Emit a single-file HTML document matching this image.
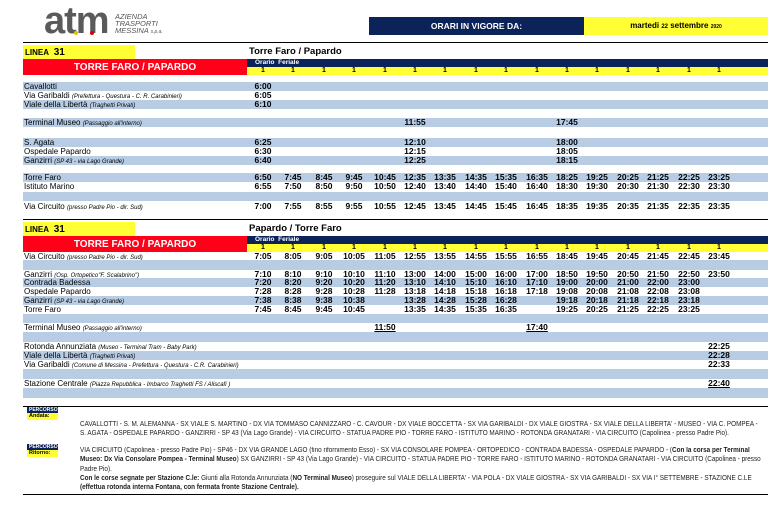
<!DOCTYPE html>
<html><head><meta charset="utf-8"><style>
body{margin:0;width:782px;height:518px;background:#fff;position:relative;overflow:hidden;font-family:"Liberation Sans",Arial,sans-serif;color:#000}
div,span{position:absolute;box-sizing:border-box}
.r{left:23px;width:745px;height:9px}
.b{background:#b8cce4}
.l{left:1px;top:0;font-size:8px;line-height:9px;white-space:nowrap}
.l i{font-size:6px}
.t span{width:30px;text-align:center;font-weight:bold;font-size:8.5px;line-height:9px;top:0}
.u{text-decoration:underline}
.c0{left:225px}.c1{left:255px}.c2{left:286px}.c3{left:316px}.c4{left:347px}.c5{left:377px}.c6{left:407px}.c7{left:438px}.c8{left:468px}.c9{left:499px}.c10{left:529px}.c11{left:559px}.c12{left:590px}.c13{left:620px}.c14{left:651px}.c15{left:681px}.c16{left:711px}
.ones span{width:30px;text-align:center;font-weight:bold;font-size:7px;line-height:8px;top:0}
.foot{left:80px;font-family:"Liberation Sans Narrow","Liberation Sans",sans-serif;font-size:7px;line-height:9.3px;white-space:nowrap;color:#222;transform:scaleX(0.91);transform-origin:0 0}
</style></head><body>
<!-- logo -->
<div style="left:44px;top:2px;font-size:38px;font-weight:bold;color:#5a5a5a;letter-spacing:-1px;line-height:38px">atm</div>
<div style="left:74px;top:31px;width:4px;height:4px;background:#e8c000;border-radius:2px"></div>
<div style="left:90px;top:31px;width:4px;height:4px;background:#d00;border-radius:2px"></div>
<div style="left:115px;top:13px;font-size:7.5px;font-style:italic;line-height:7px;color:#555">AZIENDA<br>TRASPORTI<br>MESSINA <span style="position:static;font-size:5px">s.p.a.</span></div>
<div style="left:369px;top:17px;width:215px;height:18px;background:#0b2359;color:#fff;font-weight:bold;font-size:8.5px;text-align:center;line-height:18px">ORARI IN VIGORE DA:</div>
<div style="left:584px;top:17px;width:184px;height:18px;background:#ffff33;font-weight:bold;font-size:8px;text-align:center;line-height:18px">martedi <span style="position:static;font-size:6px">22</span> settembre <span style="position:static;font-size:5px">2020</span></div>
<div style="left:23px;top:42px;width:745px;height:1px;background:#000"></div>

<!-- TABLE 1 header -->
<div style="left:23px;top:45px;width:112px;height:14px;background:#ffff33;font-weight:bold;font-size:8px;line-height:15px;padding-left:2px">LINEA <span style="position:static;font-size:10px">&nbsp;31</span></div>
<div style="left:249px;top:46px;font-weight:bold;font-size:9.5px">Torre Faro / Papardo</div>
<div style="left:23px;top:59px;width:224px;height:16px;background:#ff0019;color:#fff;font-weight:bold;font-size:10px;text-align:center;line-height:17px">TORRE FARO / PAPARDO</div>
<div style="left:247px;top:59px;width:521px;height:8px;background:#0b2359;color:#fff;font-weight:bold;font-size:6.5px;line-height:8px;padding-left:8px">Orario&nbsp; Feriale</div>
<div style="left:247px;top:67px;width:521px;height:8px;background:#ffff33"></div>
<div class="r ones" style="top:67px;height:8px"><span class="c0">1</span><span class="c1">1</span><span class="c2">1</span><span class="c3">1</span><span class="c4">1</span><span class="c5">1</span><span class="c6">1</span><span class="c7">1</span><span class="c8">1</span><span class="c9">1</span><span class="c10">1</span><span class="c11">1</span><span class="c12">1</span><span class="c13">1</span><span class="c14">1</span><span class="c15">1</span></div>

<div class="r b t" style="top:82px"><div class="l">Cavallotti</div><span class="c0">6:00</span></div>
<div class="r t" style="top:91px"><div class="l">Via Garibaldi <i>(Prefettura - Questura - C. R. Carabinieri)</i></div><span class="c0">6:05</span></div>
<div class="r b t" style="top:100px"><div class="l">Viale della Libertà <i>(Traghetti Privati)</i></div><span class="c0">6:10</span></div>
<div class="r b t" style="top:118px"><div class="l">Terminal Museo <i>(Passaggio all'interno)</i></div><span class="c5">11:55</span><span class="c10">17:45</span></div>
<div class="r b t" style="top:138px"><div class="l">S. Agata</div><span class="c0">6:25</span><span class="c5">12:10</span><span class="c10">18:00</span></div>
<div class="r t" style="top:147px"><div class="l">Ospedale Papardo</div><span class="c0">6:30</span><span class="c5">12:15</span><span class="c10">18:05</span></div>
<div class="r b t" style="top:156px"><div class="l">Ganzirri <i>(SP 43 - via Lago Grande)</i></div><span class="c0">6:40</span><span class="c5">12:25</span><span class="c10">18:15</span></div>
<div class="r b t" style="top:173px"><div class="l">Torre Faro</div><span class="c0">6:50</span><span class="c1">7:45</span><span class="c2">8:45</span><span class="c3">9:45</span><span class="c4">10:45</span><span class="c5">12:35</span><span class="c6">13:35</span><span class="c7">14:35</span><span class="c8">15:35</span><span class="c9">16:35</span><span class="c10">18:25</span><span class="c11">19:25</span><span class="c12">20:25</span><span class="c13">21:25</span><span class="c14">22:25</span><span class="c15">23:25</span></div>
<div class="r t" style="top:182px"><div class="l">Istituto Marino</div><span class="c0">6:55</span><span class="c1">7:50</span><span class="c2">8:50</span><span class="c3">9:50</span><span class="c4">10:50</span><span class="c5">12:40</span><span class="c6">13:40</span><span class="c7">14:40</span><span class="c8">15:40</span><span class="c9">16:40</span><span class="c10">18:30</span><span class="c11">19:30</span><span class="c12">20:30</span><span class="c13">21:30</span><span class="c14">22:30</span><span class="c15">23:30</span></div>
<div class="r b" style="top:192px"></div>
<div class="r t" style="top:202px"><div class="l">Via Circuito <i>(presso Padre Pio - dir. Sud)</i></div><span class="c0">7:00</span><span class="c1">7:55</span><span class="c2">8:55</span><span class="c3">9:55</span><span class="c4">10:55</span><span class="c5">12:45</span><span class="c6">13:45</span><span class="c7">14:45</span><span class="c8">15:45</span><span class="c9">16:45</span><span class="c10">18:35</span><span class="c11">19:35</span><span class="c12">20:35</span><span class="c13">21:35</span><span class="c14">22:35</span><span class="c15">23:35</span></div>
<div style="left:23px;top:219px;width:745px;height:1px;background:#000"></div>

<!-- TABLE 2 header -->
<div style="left:23px;top:222px;width:112px;height:14px;background:#ffff33;font-weight:bold;font-size:8px;line-height:15px;padding-left:2px">LINEA <span style="position:static;font-size:10px">&nbsp;31</span></div>
<div style="left:249px;top:223px;font-weight:bold;font-size:9.5px">Papardo / Torre Faro</div>
<div style="left:23px;top:236px;width:224px;height:16px;background:#ff0019;color:#fff;font-weight:bold;font-size:10px;text-align:center;line-height:17px">TORRE FARO / PAPARDO</div>
<div style="left:247px;top:236px;width:521px;height:8px;background:#0b2359;color:#fff;font-weight:bold;font-size:6.5px;line-height:8px;padding-left:8px">Orario&nbsp; Feriale</div>
<div style="left:247px;top:244px;width:521px;height:8px;background:#ffff33"></div>
<div class="r ones" style="top:244px;height:8px"><span class="c0">1</span><span class="c1">1</span><span class="c2">1</span><span class="c3">1</span><span class="c4">1</span><span class="c5">1</span><span class="c6">1</span><span class="c7">1</span><span class="c8">1</span><span class="c9">1</span><span class="c10">1</span><span class="c11">1</span><span class="c12">1</span><span class="c13">1</span><span class="c14">1</span><span class="c15">1</span></div>

<div class="r t" style="top:252px"><div class="l">Via Circuito <i>(presso Padre Pio - dir. Sud)</i></div><span class="c0">7:05</span><span class="c1">8:05</span><span class="c2">9:05</span><span class="c3">10:05</span><span class="c4">11:05</span><span class="c5">12:55</span><span class="c6">13:55</span><span class="c7">14:55</span><span class="c8">15:55</span><span class="c9">16:55</span><span class="c10">18:45</span><span class="c11">19:45</span><span class="c12">20:45</span><span class="c13">21:45</span><span class="c14">22:45</span><span class="c15">23:45</span></div>
<div class="r b" style="top:260px;height:10px"></div>
<div class="r t" style="top:270px"><div class="l">Ganzirri <i>(Osp. Ortopetico"F. Scalabrino")</i></div><span class="c0">7:10</span><span class="c1">8:10</span><span class="c2">9:10</span><span class="c3">10:10</span><span class="c4">11:10</span><span class="c5">13:00</span><span class="c6">14:00</span><span class="c7">15:00</span><span class="c8">16:00</span><span class="c9">17:00</span><span class="c10">18:50</span><span class="c11">19:50</span><span class="c12">20:50</span><span class="c13">21:50</span><span class="c14">22:50</span><span class="c15">23:50</span></div>
<div class="r b t" style="top:278px"><div class="l">Contrada Badessa</div><span class="c0">7:20</span><span class="c1">8:20</span><span class="c2">9:20</span><span class="c3">10:20</span><span class="c4">11:20</span><span class="c5">13:10</span><span class="c6">14:10</span><span class="c7">15:10</span><span class="c8">16:10</span><span class="c9">17:10</span><span class="c10">19:00</span><span class="c11">20:00</span><span class="c12">21:00</span><span class="c13">22:00</span><span class="c14">23:00</span></div>
<div class="r t" style="top:287px"><div class="l">Ospedale Papardo</div><span class="c0">7:28</span><span class="c1">8:28</span><span class="c2">9:28</span><span class="c3">10:28</span><span class="c4">11:28</span><span class="c5">13:18</span><span class="c6">14:18</span><span class="c7">15:18</span><span class="c8">16:18</span><span class="c9">17:18</span><span class="c10">19:08</span><span class="c11">20:08</span><span class="c12">21:08</span><span class="c13">22:08</span><span class="c14">23:08</span></div>
<div class="r b t" style="top:296px"><div class="l">Ganzirri <i>(SP 43 - via Lago Grande)</i></div><span class="c0">7:38</span><span class="c1">8:38</span><span class="c2">9:38</span><span class="c3">10:38</span><span class="c5">13:28</span><span class="c6">14:28</span><span class="c7">15:28</span><span class="c8">16:28</span><span class="c10">19:18</span><span class="c11">20:18</span><span class="c12">21:18</span><span class="c13">22:18</span><span class="c14">23:18</span></div>
<div class="r t" style="top:305px"><div class="l">Torre Faro</div><span class="c0">7:45</span><span class="c1">8:45</span><span class="c2">9:45</span><span class="c3">10:45</span><span class="c5">13:35</span><span class="c6">14:35</span><span class="c7">15:35</span><span class="c8">16:35</span><span class="c10">19:25</span><span class="c11">20:25</span><span class="c12">21:25</span><span class="c13">22:25</span><span class="c14">23:25</span></div>
<div class="r b" style="top:314px"></div>
<div class="r t" style="top:323px"><div class="l">Terminal Museo <i>(Passaggio all'interno)</i></div><span class="c4 u">11:50</span><span class="c9 u">17:40</span></div>
<div class="r b" style="top:332px;height:10px"></div>
<div class="r t" style="top:342px"><div class="l">Rotonda Annunziata <i>(Museo - Terminal Tram - Baby Park)</i></div><span class="c15">22:25</span></div>
<div class="r b t" style="top:351px"><div class="l">Viale della Libertà <i>(Traghetti Privati)</i></div><span class="c15">22:28</span></div>
<div class="r t" style="top:360px"><div class="l">Via Garibaldi <i>(Comune di Messina - Prefettura - Questura - C.R. Carabinieri)</i></div><span class="c15">22:33</span></div>
<div class="r b" style="top:369px;height:10px"></div>
<div class="r t" style="top:379px"><div class="l">Stazione Centrale <i>(Piazza Repubblica - Imbarco Traghetti FS / Aliscafi )</i></div><span class="c15 u">22:40</span></div>
<div class="r b" style="top:388px;height:10px"></div>

<!-- footer -->
<div style="left:23px;top:406px;width:745px;height:1px;background:#000"></div>
<div style="left:27px;top:407px;width:31px;height:6px;background:#0b2359;color:#fff;font-size:5px;font-weight:bold;line-height:6px;padding-left:2px">PERCORSO</div>
<div style="left:27px;top:413px;width:31px;height:7px;background:#ffff33;font-size:5.5px;font-weight:bold;line-height:7px;padding-left:2px">Andata:</div>
<div class="foot" style="top:420px">CAVALLOTTI - S. M. ALEMANNA - SX VIALE S. MARTINO - DX VIA TOMMASO CANNIZZARO - C. CAVOUR - DX VIALE BOCCETTA - SX VIA GARIBALDI - DX VIALE GIOSTRA - SX VIALE DELLA LIBERTA' - MUSEO - VIA C. POMPEA -<br>S. AGATA - OSPEDALE PAPARDO - GANZIRRI - SP 43 (Via Lago Grande) - VIA CIRCUITO - STATUA PADRE PIO - TORRE FARO - ISTITUTO MARINO - ROTONDA GRANATARI - VIA CIRCUITO (Capolinea - presso Padre Pio).</div>
<div style="left:27px;top:444px;width:31px;height:6px;background:#0b2359;color:#fff;font-size:5px;font-weight:bold;line-height:6px;padding-left:2px">PERCORSO</div>
<div style="left:27px;top:450px;width:31px;height:7px;background:#ffff33;font-size:5.5px;font-weight:bold;line-height:7px;padding-left:2px">Ritorno:</div>
<div class="foot" style="top:446px">VIA CIRCUITO (Capolinea - presso Padre Pio) - SP46 - DX VIA GRANDE LAGO (fino rifornimento Esso) - SX VIA CONSOLARE POMPEA - ORTOPEDICO - CONTRADA BADESSA - OSPEDALE PAPARDO - (<b>Con la corsa per Terminal</b><br><b>Museo: Dx Via Consolare Pompea - Terminal Museo</b>) SX GANZIRRI - SP 43 (Via Lago Grande) - VIA CIRCUITO - STATUA PADRE PIO - TORRE FARO - ISTITUTO MARINO - ROTONDA GRANATARI - VIA CIRCUITO (Capolinea - presso<br>Padre Pio).<br><b>Con le corse segnate per Stazione C.le:</b> Giunti alla Rotonda Annunziata (<b>NO Terminal Museo</b>) proseguire sul VIALE DELLA LIBERTA' - VIA POLA - DX VIALE GIOSTRA - SX VIA GARIBALDI - SX VIA I° SETTEMBRE - STAZIONE C.LE<br><b>(effettua rotonda interna Fontana, con fermata fronte Stazione Centrale).</b></div>
<div style="left:23px;top:494px;width:745px;height:1px;background:#000"></div>
</body></html>
